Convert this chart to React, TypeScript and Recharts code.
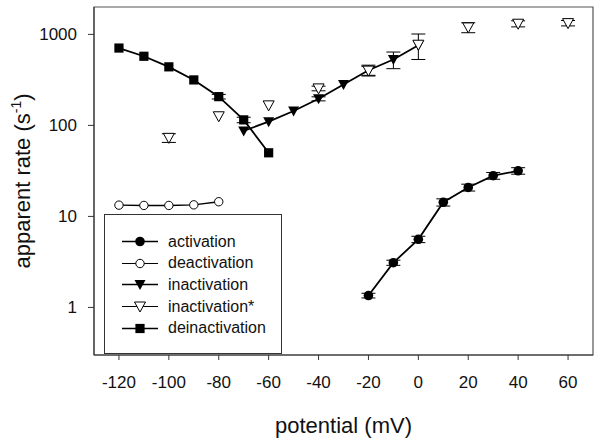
import {
  ComposedChart,
  ErrorBar,
  Label,
  Line,
  ReferenceArea,
  Scatter,
  XAxis,
  YAxis,
} from "recharts";

const FONT = "'Liberation Sans', Arial, sans-serif";

// potential (mV) / apparent rate (s^-1) / error (s^-1)
const activationX = [-20, -10, 0, 10, 20, 30, 40];
const activationY = [1.35, 3.1, 5.6, 14.3, 20.8, 28, 31.7];
const activationErr = [0.08, 0.2, 0.45, 1.3, 1.8, 2.4, 2.6];

const deactivationX = [-120, -110, -100, -90, -80];
const deactivationY = [13.3, 13.2, 13.2, 13.4, 14.5];
const deactivationErr = [0, 0, 0, 0, 0];

const inactivationX = [-70, -60, -50, -40, -30, -20, -10, 0];
const inactivationY = [87, 110, 144, 196, 282, 404, 530, 760];
const inactivationErr = [0, 0, 0, 10, 0, 55, 110, 0];

const inactStarX = [-100, -80, -60, -40, -20, 0, 20, 40, 60];
const inactStarY = [73, 126, 166, 255, 400, 770, 1193, 1310, 1330];
const inactStarErr = [8, 0, 0, 15, 45, 240, 150, 100, 90];

const deinactivationX = [-120, -110, -100, -90, -80, -70, -60];
const deinactivationY = [708, 575, 440, 316, 207, 115, 50];
const deinactivationErr = [0, 0, 0, 0, 12, 8, 0];

const xTicks = [-120, -100, -80, -60, -40, -20, 0, 20, 40, 60];
const yTicks = [1, 10, 100, 1000];

const zip = (xs: number[], ys: number[], es: number[]) =>
  xs.map((x, i) => ({ x, y: ys[i], err: es[i] }));

const activation = zip(activationX, activationY, activationErr);
const deactivation = zip(deactivationX, deactivationY, deactivationErr);
const inactivation = zip(inactivationX, inactivationY, inactivationErr);
const inactStar = zip(inactStarX, inactStarY, inactStarErr);
const deinactivation = zip(deinactivationX, deinactivationY, deinactivationErr);

type Kind = "dot" | "ring" | "tri" | "openTri" | "square";

function Marker({ kind, cx, cy }: { kind: Kind; cx: number; cy: number }) {
  if (cx == null || cy == null) return null;
  switch (kind) {
    case "dot":
      return <circle cx={cx} cy={cy} r={4.8} fill="#000" />;
    case "ring":
      return <circle cx={cx} cy={cy} r={4.2} fill="#fff" stroke="#000" strokeWidth={1} />;
    case "tri":
      return (
        <polygon
          points={`${cx - 5.5},${cy - 4.5} ${cx + 5.5},${cy - 4.5} ${cx},${cy + 5.5}`}
          fill="#000"
        />
      );
    case "openTri":
      return (
        <polygon
          points={`${cx - 5.5},${cy - 4.5} ${cx + 5.5},${cy - 4.5} ${cx},${cy + 5.5}`}
          fill="#fff"
          stroke="#000"
          strokeWidth={1}
        />
      );
    default:
      return <rect x={cx - 4.6} y={cy - 4.6} width={9.2} height={9.2} fill="#000" />;
  }
}

const legendItems: { name: string; kind: Kind; line: number }[] = [
  { name: "activation", kind: "dot", line: 1.6 },
  { name: "deactivation", kind: "ring", line: 1 },
  { name: "inactivation", kind: "tri", line: 1.6 },
  { name: "inactivation*", kind: "openTri", line: 1 },
  { name: "deinactivation", kind: "square", line: 1.6 },
];

const dotFor = (kind: Kind) => (p: any) =>
  <Marker key={p.index} kind={kind} cx={p.cx} cy={p.cy} />;

function YTitle(props: any) {
  const vb = props.viewBox || { x: 0, y: 7, width: 94, height: 348 };
  const x = vb.x + 30;
  const y = vb.y + vb.height / 2;
  return (
    <text
      x={x}
      y={y}
      transform={`rotate(-90 ${x} ${y})`}
      textAnchor="middle"
      fontFamily={FONT}
      fontSize={22}
      fill="#111"
    >
      apparent rate (s
      <tspan fontSize={14} dy={-9}>-1</tspan>
      <tspan dy={9}>)</tspan>
    </text>
  );
}

export default function App() {
  return (
    <div style={{ position: "absolute", left: 0, top: 0, width: 600, height: 444, background: "#fff" }}>
      <ComposedChart
        width={600}
        height={444}
        margin={{ top: 7, right: 7, bottom: 29, left: 0 }}
      >
        <XAxis
          dataKey="x"
          type="number"
          domain={[-130, 70]}
          ticks={xTicks}
          allowDataOverflow
          height={60}
          tickSize={5}
          tickMargin={16}
          stroke="#333"
          tick={{ fill: "#111", fontSize: 17, fontFamily: FONT }}
        >
          <Label
            value="potential (mV)"
            position="bottom"
            offset={2}
            style={{ fontSize: 22, fontFamily: FONT, fill: "#111" }}
          />
        </XAxis>
        <YAxis
          type="number"
          scale="log"
          domain={[0.3, 2000]}
          ticks={yTicks}
          allowDataOverflow
          width={94}
          tickSize={6}
          tickMargin={11}
          stroke="#333"
          tick={{ fill: "#111", fontSize: 17, fontFamily: FONT }}
        >
          <Label content={<YTitle />} position="insideLeft" />
        </YAxis>
        <ReferenceArea
          x1={-130}
          x2={70}
          y1={0.3}
          y2={2000}
          fill="none"
          stroke="#555"
          strokeWidth={1.2}
          ifOverflow="visible"
        />
        <Line
          data={deinactivation}
          dataKey="y"
          stroke="#000"
          strokeWidth={1.8}
          dot={dotFor("square")}
          isAnimationActive={false}
        >
          <ErrorBar dataKey="err" width={7} stroke="#000" strokeWidth={1} />
        </Line>
        <Line
          data={inactivation}
          dataKey="y"
          stroke="#000"
          strokeWidth={1.8}
          dot={dotFor("tri")}
          isAnimationActive={false}
        >
          <ErrorBar dataKey="err" width={7} stroke="#000" strokeWidth={1} />
        </Line>
        <Line
          data={activation}
          dataKey="y"
          stroke="#000"
          strokeWidth={1.8}
          dot={dotFor("dot")}
          isAnimationActive={false}
        >
          <ErrorBar dataKey="err" width={7} stroke="#000" strokeWidth={1} />
        </Line>
        <Line
          data={deactivation}
          dataKey="y"
          stroke="#000"
          strokeWidth={1.4}
          dot={dotFor("ring")}
          isAnimationActive={false}
        />
        <Scatter
          data={inactStar}
          dataKey="y"
          shape={(p: any) => <Marker kind="openTri" cx={p.cx} cy={p.cy} />}
          isAnimationActive={false}
        >
          <ErrorBar dataKey="err" width={7} stroke="#000" strokeWidth={1} />
        </Scatter>
      </ComposedChart>
      <div
        style={{
          position: "absolute",
          left: 104,
          top: 214,
          width: 176,
          height: 138,
          border: "1px solid #333",
          background: "#fff",
          fontFamily: FONT,
          fontSize: 16,
          color: "#111",
        }}
      >
        {legendItems.map((it, i) => (
          <div
            key={it.name}
            style={{ position: "absolute", left: 0, top: 16 + i * 21.7, height: 21, display: "flex", alignItems: "center" }}
          >
            <svg width={60} height={21} style={{ display: "block" }}>
              <line x1={17} x2={53} y1={10.5} y2={10.5} stroke="#000" strokeWidth={it.line} />
              <Marker kind={it.kind} cx={35} cy={10.5} />
            </svg>
            <span style={{ marginLeft: 3, whiteSpace: "nowrap" }}>{it.name}</span>
          </div>
        ))}
      </div>
    </div>
  );
}
